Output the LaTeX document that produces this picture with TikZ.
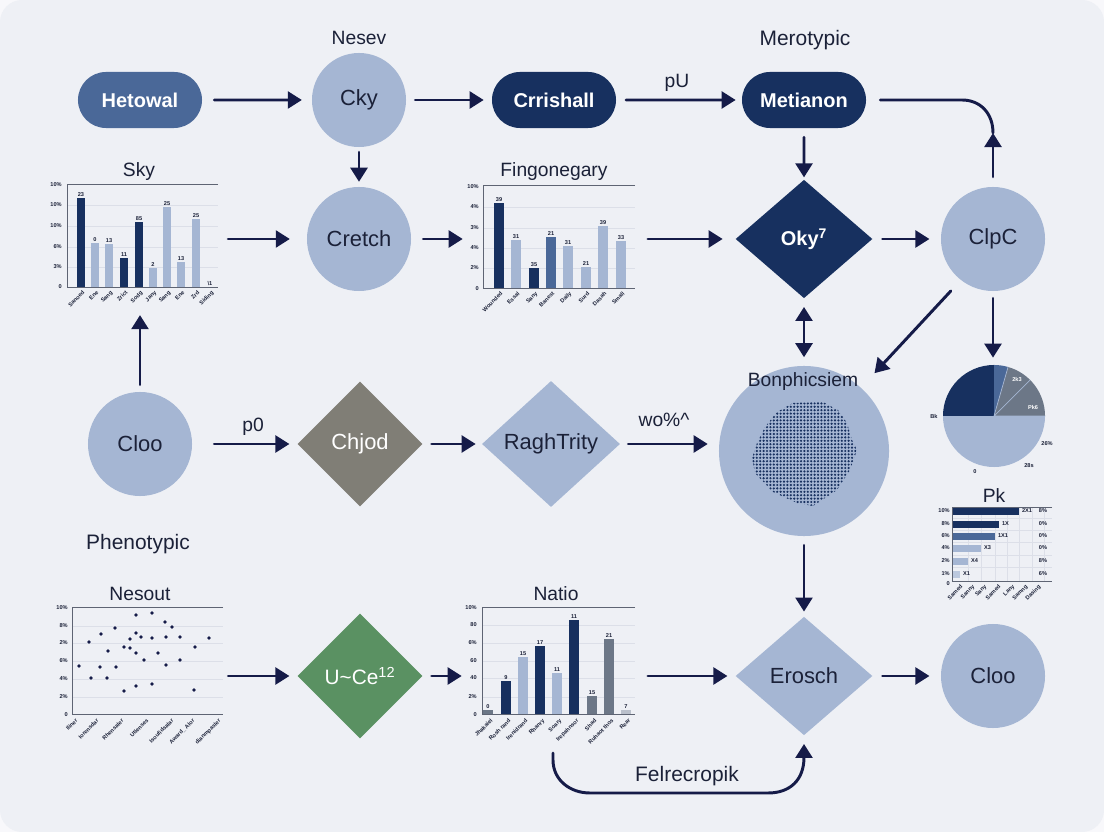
\documentclass[tikz,border=0pt]{standalone}
\usepackage{fontspec}
\setmainfont{Liberation Sans}
\usetikzlibrary{arrows.meta,shapes.geometric,shapes.misc,fit}

\definecolor{panelc}{HTML}{EEF0F5}
\definecolor{cornerc}{HTML}{F8F8FB}
\definecolor{navyc}{HTML}{17305F}
\definecolor{midc}{HTML}{4A6898}
\definecolor{lightc}{HTML}{A5B6D3}
\definecolor{flowc}{HTML}{151B48}
\definecolor{inkc}{HTML}{1B2138}
\definecolor{khakic}{HTML}{807E76}
\definecolor{greenc}{HTML}{5A9162}
\definecolor{slatec}{HTML}{6C7787}
\definecolor{axisc}{HTML}{5E6473}
\definecolor{gridc}{HTML}{DCDFE8}

\newcommand{\nodefont}{\fontsize{15.6}{18}\selectfont}
\newcommand{\boldfont}{\fontsize{14.2}{17}\selectfont\bfseries}
\newcommand{\titlefont}{\fontsize{13.7}{16}\selectfont}
\newcommand{\bigtitlefont}{\fontsize{14.9}{17}\selectfont}
\newcommand{\tinyfont}{\fontsize{4}{5}\selectfont\bfseries}

\tikzset{
  flow/.style={line width=2.1pt, draw=flowc, line cap=round, shorten >=7pt, shorten <=7pt,
    -{Triangle[length=10pt,width=12pt]}},
  flowback/.style={flow, {Triangle[length=10pt,width=12pt]}-{Triangle[length=10pt,width=12pt]}},
  pill/.style={rounded rectangle, minimum width=3.1cm, minimum height=1.4cm, inner sep=0pt,
    text=white, font=\boldfont},
  round/.style={circle, fill=lightc, minimum size=2.6cm, inner sep=0pt, text=inkc, font=\nodefont},
  gem/.style={diamond, minimum width=3.42cm, minimum height=2.96cm, inner sep=0pt, fill=lightc,
    text=inkc, font=\nodefont},
  title/.style={text=inkc, font=\titlefont},
  axisline/.style={draw=axisc, line width=0.6pt},
  gridline/.style={draw=gridc, line width=0.4pt},
  ytick/.style={anchor=east, inner sep=0pt, text=inkc, font=\tinyfont},
  xtick/.style={anchor=north east, rotate=45, inner sep=0pt, text=inkc, font=\tinyfont},
  barval/.style={anchor=south, inner sep=1pt, text=inkc, font=\tinyfont},
  region/.style={inner sep=0pt},
}

\begin{document}
\begin{tikzpicture}[x=0.025cm, y=-0.025cm]
  \useasboundingbox (0,0) rectangle (1104,832);
  \fill[cornerc] (0,0) rectangle (1104,832);
  \fill[panelc, rounded corners=0.55cm] (0,0) rectangle (1104,832);

  % top row
  \node[pill, fill=midc] (hetowal) at (140,100) {Hetowal};
  \node[round, minimum size=2.35cm] (cky) at (359,100) {Cky};
  \node[pill, fill=navyc] (crrishall) at (554,100) {Crrishall};
  \node[pill, fill=navyc] (metianon) at (804,100) {Metianon};
  \node[title] (nesev) at (359,38) {Nesev};
  \node[title, font=\bigtitlefont] (merotypic) at (805,40) {Merotypic};
  \node[title] (pu) at (677,83) {pU};

  % second row
  \node[round] (cretch) at (359,239) {Cretch};
  \node[gem, fill=navyc, text=white, font=\boldfont] (oky) at (804,239) {Oky\textsuperscript{7}};
  \node[round] (clpc) at (993,239) {ClpC};
  \node[title] (skytitle) at (139,172) {Sky};
  \node[title] (fingonegary) at (554,172) {Fingonegary};

  % third row
  \node[round] (cloo) at (140,444) {Cloo};
  \node[gem, minimum width=3.12cm, minimum height=3.12cm, fill=khakic, text=white] (chjod) at (360,444) {Chjod};
  \node[gem, minimum width=3.45cm, minimum height=3.15cm] (raghtrity) at (551,444) {RaghTrity};
  \node[circle, fill=lightc, minimum size=4.25cm, inner sep=0pt] (bonph) at (804,451) {};
  \node[title] (pzero) at (253,427) {p0};
  \node[title] (wo) at (664,420) {wo\%\textasciicircum};

  % dots of the big circle
  \begin{scope}
    \clip (793,403) -- (823,402) -- (838,410) -- (847,423) -- (852,440) -- (857,450) -- (850,470)
      -- (837,490) -- (813,506) -- (797,503) -- (773,492) -- (755,473) -- (752,458) -- (757,443)
      -- (765,427) -- (777,412) -- cycle;
    \foreach \x in {0,...,32}
      \foreach \y in {0,...,32}
        \fill[navyc] (750+\x*3.4,400+\y*3.4) circle[radius=0.85pt];
  \end{scope}
  \node[title] (bonphicsiem) at (803,382) {Bonphicsiem};

  % bottom row
  \node[gem, minimum width=3.12cm, minimum height=3.12cm, fill=greenc, text=white, font=\fontsize{14.8}{17}\selectfont] (uce) at (360,676) {U\textasciitilde Ce\textsuperscript{12}};
  \node[gem] (erosch) at (804,676) {Erosch};
  \node[round] (cloob) at (993,676) {Cloo};
  \node[title, font=\bigtitlefont] (phenotypic) at (138,544) {Phenotypic};
  \node[title] (nesout) at (140,594) {Nesout};
  \node[title] (natio) at (556,594) {Natio};
  \node[title, font=\bigtitlefont] (felrecropik) at (687,776) {Felrecropik};

  % Sky chart
  \foreach \y in {205,226,247,267} \draw[gridline] (67,\y) -- (218,\y);
  \foreach \x/\t/\c/\v/\l in {81/198/navyc/23/Sanoed,95/243/lightc/0/Ene,109/244/lightc/13/Sang,124/258/navyc/11/Zrict,
    139/222/navyc/85/Sodg,153/268/lightc/2/Jany,167/207/lightc/25/Sang,181/262/lightc/13/Ene,196/219/lightc/25/Zrd}{
    \fill[\c] (\x-4,\t) rectangle (\x+4,287);
    \node[barval] (skyv\x) at (\x,\t) {\v};
    \node[xtick] (skyx\x) at (\x+1,290) {\l};
  }
  \node[barval] (skyvlast) at (210,287) {\textbackslash1};
  \node[xtick] (skyxlast) at (211,290) {Siding};
  \foreach \y/\l in {185/10\%,205/10\%,226/10\%,247/6\%,267/3\%,287/0}
    \node[ytick] (skyy\y) at (62,\y) {\l};
  \draw[axisline] (218,184) -- (67,184) -- (67,287) -- (218,287);
  \node[region, fit={(50,184) (218,305)}] (skychart) {};

  % Fingonegary chart
  \foreach \y in {207,228,248,268} \draw[gridline] (483,\y) -- (635,\y);
  \foreach \x/\t/\c/\v/\l in {499/203/navyc/39/Wounded,516/240/lightc/31/Essal,534/268/navyc/35/Sany,551/237/midc/21/Banest,
    568/246/lightc/31/Daily,586/267/lightc/21/Surd,603/226/lightc/39/Dasah,621/241/lightc/33/Small}{
    \fill[\c] (\x-5,\t) rectangle (\x+5,288);
    \node[barval] (fingv\x) at (\x,\t) {\v};
    \node[xtick] (fingx\x) at (\x+1,291) {\l};
  }
  \foreach \y/\l in {187/10\%,207/4\%,228/3\%,248/4\%,268/2\%,289/0}
    \node[ytick] (fingy\y) at (479,\y) {\l};
  \draw[axisline] (635,185) -- (483,185) -- (483,288) -- (635,288);
  \node[region, fit={(463,185) (635,310)}] (fingchart) {};

  % pie
  \coordinate (piec) at (994,416);
  \fill[lightc] (piec) -- +(180:1.275cm) arc[start angle=180,end angle=360,radius=1.275cm] -- cycle;
  \fill[navyc] (piec) -- +(90:1.275cm) arc[start angle=90,end angle=180,radius=1.275cm] -- cycle;
  \fill[midc] (piec) -- +(74:1.275cm) arc[start angle=74,end angle=90,radius=1.275cm] -- cycle;
  \fill[slatec] (piec) -- +(0:1.275cm) arc[start angle=0,end angle=74,radius=1.275cm] -- cycle;
  \draw[lightc, line width=0.5pt] (piec) -- +(74:1.275cm) (piec) -- +(45:1.275cm) (piec) -- +(0:1.275cm);
  \node[region, minimum size=2.55cm, circle] (pie) at (piec) {};
  \node[inner sep=0pt, text=inkc, font=\tinyfont] (piea) at (934,416) {Bk};
  \node[inner sep=0pt, text=white, font=\tinyfont] (pieb) at (1017,379) {2k3};
  \node[inner sep=0pt, text=white, font=\tinyfont] (piec1) at (1033,407) {Pk6};
  \node[inner sep=0pt, text=inkc, font=\tinyfont] (pied) at (1047,444) {26\%};
  \node[inner sep=0pt, text=inkc, font=\tinyfont] (piee) at (1029,466) {28s};
  \node[inner sep=0pt, text=inkc, font=\tinyfont] (pief) at (975,472) {0};

  % Pk chart
  \node[title] (pk) at (994,496) {Pk};
  \foreach \x in {968,981,995,1007,1019,1032,1044} \draw[gridline] (\x,507) -- (\x,581);
  \foreach \y in {518,530,542,555,567} \draw[gridline] (952,\y) -- (1052,\y);
  \foreach \y/\r/\c/\v/\p/\l in {511/1019/navyc/2X1/8\%/10\%,524/999/navyc/1X/0\%/8\%,536/995/midc/1X1/0\%/6\%,
    548/981/lightc/X3/0\%/4\%,561/968/lightc/X4/8\%/2\%,574/960/lightc!75/X1/6\%/1\%}{
    \fill[\c] (952,\y-3.5) rectangle (\r,\y+3.5);
    \node[anchor=west, inner sep=2pt, text=inkc, font=\tinyfont] (pkv\y) at (\r,\y) {\v};
    \node[inner sep=0pt, text=inkc, font=\tinyfont] (pkp\y) at (1043,\y) {\p};
    \node[ytick] (pky\y) at (950,\y) {\l};
  }
  \node[ytick] (pkyzero) at (950,584) {0};
  \foreach \x/\l in {960/Samed,972/Sanny,984/Sany,998/Samed,1012/Lany,1025/Samng,1038/Dasing}
    \node[xtick] (pkx\x) at (\x,584) {\l};
  \draw[axisline] (1052,507) -- (952,507) -- (952,581) -- (1052,581);
  \node[region, fit={(935,507) (1052,595)}] (pkchart) {};

  % Nesout chart
  \foreach \y in {626,643,661,679,697} \draw[gridline] (72,\y) -- (223,\y);
  \foreach \x/\y in {79/666,89/642,91/678,101/634,100/667,108/651,107/678,115/628,116/667,124/647,124/691,
    130/639,130/648,136/615,136/633,136/653,136/686,141/637,144/660,152/613,152/638,152/684,158/653,
    165/622,172/627,166/637,166/665,180/637,180/660,195/647,194/690,209/638}
    \fill[flowc] (\x,\y) circle[radius=1.4pt];
  \foreach \y/\l in {608/10\%,626/8\%,643/2\%,661/6\%,679/4\%,697/2\%,715/0}
    \node[ytick] (nesy\y) at (68,\y) {\l};
  \foreach \x/\l in {75/Iliner,96/Iorensdar,121/Rhensaler,146/Utlenses,171/Isoufidsalar,192/Award\_ Alor,218/dianmpasler}
    \node[xtick] (nesx\x) at (\x,718) {\l};
  \draw[axisline] (223,607) -- (72,607) -- (72,714) -- (223,714);
  \node[region, fit={(50,607) (228,745)}] (nesoutchart) {};

  % Natio chart
  \foreach \y in {625,643,661,678,697} \draw[gridline] (482,\y) -- (635,\y);
  \foreach \x/\t/\c/\v/\l in {488/710/slatec/0/Jhakaiel,506/681/navyc/9/Rosh rand,523/657/lightc/15/Irenidrand,540/646/navyc/17/Rhanry,
    557/673/lightc/11/Soary,574/620/navyc/11/Irepahnsor,592/696/slatec/15/Shad,609/639/slatec/21/Ruhaot thos,626/710/gridc!70!slatec/7/Rear}{
    \fill[\c] (\x-5,\t) rectangle (\x+5,714);
    \node[barval] (natv\x) at (\x,\t) {\v};
    \node[xtick] (natx\x) at (\x+2,718) {\l};
  }
  \foreach \y/\l in {608/10\%,625/80,643/6\%,661/60,678/40,697/2\%,715/0}
    \node[ytick] (naty\y) at (477,\y) {\l};
  \draw[axisline] (635,607) -- (482,607) -- (482,714) -- (635,714);
  \node[region, fit={(462,607) (635,748)}] (natiochart) {};

  % arrows
  \coordinate (clpcup) at (993,133);
  \coordinate (elbowin) at (553,753);
  \draw[flow, shorten <=8.5pt] (hetowal) -- (cky);
  \draw[flow, shorten <=6.4pt, shorten >=5.7pt] (cky) -- (crrishall);
  \draw[flow, shorten >=4.3pt] (crrishall) -- (metianon);
  \draw[flow, shorten <=3.5pt, shorten >=3.5pt] (cky) -- (cretch);
  \draw[flow, shorten <=6.4pt, shorten >=1.5pt] (metianon) -- (oky);
  \draw[line width=2.1pt, draw=flowc, line cap=round] (metianon.east) ++(14,0) -- (962,100) .. controls (980,100) and (993,113) .. (clpcup);
  \draw[flow, shorten >=0pt] (clpc) -- (clpcup);
  \draw[flow, shorten <=7pt, shorten >=12pt] (skychart.east |- cretch.west) -- (cretch);
  \draw[flow, shorten <=8.5pt, shorten >=0pt] (cretch) -- (fingchart.west |- cretch.east);
  \draw[flow, shorten <=9pt, shorten >=9pt] (fingchart.east |- oky.west) -- (oky);
  \draw[flow, shorten >=8pt] (oky) -- (clpc);
  \draw[flowback, shorten <=6pt, shorten >=6pt] (oky) -- (bonph);
  \draw[flow, shorten <=10.5pt, shorten >=14pt] (clpc.232) -- (bonph.48);
  \draw[flow, shorten <=5pt, shorten >=5pt] (clpc) -- (pie.north -| clpc.south);
  \draw[flow, shorten <=5pt] (cloo) -- (skychart.south -| cloo.north);
  \draw[flow, shorten <=15.6pt, shorten >=5.6pt] (cloo) -- (chjod);
  \draw[flow, shorten <=6.4pt, shorten >=4.3pt] (chjod) -- (raghtrity);
  \draw[flow, shorten <=5.7pt, shorten >=7.8pt] (raghtrity) -- (raghtrity -| bonph.west);
  \draw[flow, shorten <=6.4pt, shorten >=3.5pt] (bonph) -- (erosch);
  \draw[flow, shorten <=0pt, shorten >=5.6pt] (nesoutchart.east |- uce.west) -- (uce);
  \draw[flow, shorten <=6.4pt, shorten >=0pt] (uce) -- (natiochart.west |- uce.east);
  \draw[flow, shorten <=9pt, shorten >=5.6pt] (natiochart.east |- erosch.west) -- (erosch);
  \draw[flow, shorten >=8pt] (erosch) -- (cloob);
  \draw[flow, shorten <=0pt, shorten >=6pt] (elbowin) -- (553,760) .. controls (553,780) and (570,793) .. (590,793)
    -- (768,793) .. controls (790,793) and (804,780) .. (erosch.south);
\end{tikzpicture}
\end{document}
